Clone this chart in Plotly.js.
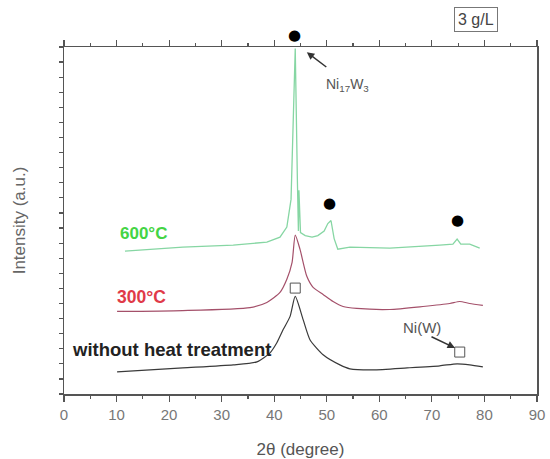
<!DOCTYPE html>
<html>
<head>
<meta charset="utf-8">
<script src="https://cdn.plot.ly/plotly-3.0.1.min.js"></script>
<style>
  html, body { margin: 0; padding: 0; background: #fff; }
  #chart { width: 550px; height: 459px; }
</style>
</head>
<body>
<div id="chart"></div>
<script>
// XRD patterns (stacked, arbitrary intensity units)
const twoThetaAsDep = [10.1, 22.6, 32.2, 36.7, 39.2, 40.5, 41.7, 43.0, 44.0, 45.5, 46.8, 49.3, 52.5, 54.4, 58.8, 65.3, 71.5, 74.8, 77.2, 79.7];
const intensityAsDep = [1.47, 1.73, 1.93, 2.13, 2.73, 3.4, 4.27, 5.13, 6.47, 4.93, 3.6, 2.6, 1.93, 1.67, 1.6, 1.73, 1.87, 2.0, 1.93, 1.8];

const twoTheta300 = [10.1, 22.6, 35.4, 38.6, 41.1, 42.4, 43.4, 44.0, 44.9, 46.2, 47.4, 49.3, 51.2, 53.1, 55.7, 62.0, 68.3, 73.4, 75.3, 77.2, 79.7];
const intensity300 = [5.47, 5.53, 5.73, 6.07, 6.73, 7.6, 8.73, 10.53, 9.6, 7.8, 7.07, 6.6, 6.13, 5.8, 5.67, 5.6, 5.8, 6.0, 6.13, 6.0, 5.87];

const twoTheta600 = [11.6, 22.6, 32.2, 38.6, 41.1, 42.4, 43.2, 43.6, 44.0, 44.4, 44.6, 44.7, 45.0, 45.9, 47.2, 48.3, 49.5, 50.2, 50.8, 51.4, 52.1, 54.4, 62.0, 71.5, 74.0, 74.8, 75.5, 77.2, 79.1];
const intensity600 = [9.47, 9.73, 9.87, 10.07, 10.4, 11.07, 12.9, 18.3, 22.9, 14.3, 10.8, 13.5, 10.7, 10.5, 10.4, 10.5, 10.8, 11.3, 11.5, 10.3, 9.6, 9.73, 9.67, 9.87, 9.93, 10.27, 9.93, 9.93, 9.67];

// Phase markers: Ni17W3 (filled circles) and Ni(W) (open squares)
const ni17w3X = [43.8, 50.6, 74.8];
const ni17w3Y = [23.7, 12.6, 11.5];
const niwX = [44.0, 75.3];
const niwY = [7.02, 2.78];

const xTicks = [0, 10, 20, 30, 40, 50, 60, 70, 80, 90];
const Y_MAX = 23;

const FONT = 'Liberation Sans, Arial, sans-serif';

const traces = [
  { x: twoThetaAsDep, y: intensityAsDep, mode: 'lines', line: { color: '#3a3a3a', width: 1.2, shape: 'spline', smoothing: 0.6 }, hoverinfo: 'skip' },
  { x: twoTheta300, y: intensity300, mode: 'lines', line: { color: '#a4506a', width: 1.2, shape: 'spline', smoothing: 0.6 }, hoverinfo: 'skip' },
  { x: twoTheta600, y: intensity600, mode: 'lines', line: { color: '#86d6a3', width: 1.3 }, hoverinfo: 'skip' },
  { x: niwX, y: niwY, mode: 'markers', marker: { symbol: 'square-open', size: 10, color: '#555', line: { width: 1 } }, cliponaxis: false, hoverinfo: 'skip' }
];

// Filled-circle phase markers; vertical position given as a fraction of the
// y range (paper units) so that the one above the frame is still drawn
const dotAnnotations = ni17w3X.map((x, i) => ({
  x: x, y: ni17w3Y[i] / Y_MAX, xref: 'x', yref: 'paper', text: '●', showarrow: false,
  xanchor: 'center', yanchor: 'middle',
  font: { family: 'DejaVu Sans', size: 15, color: '#000' }, yshift: 1
}));

const layout = {
  width: 550,
  height: 459,
  margin: { l: 64, r: 13, t: 47, b: 65 },
  paper_bgcolor: '#fff',
  plot_bgcolor: '#fff',
  showlegend: false,
  font: { family: FONT, color: '#555' },
  xaxis: {
    range: [0, 90],
    tickvals: xTicks,
    ticktext: xTicks.map(String),
    ticks: 'outside',
    ticklen: 6,
    tickwidth: 1.2,
    tickcolor: '#555',
    minor: { dtick: 5, ticks: 'outside', ticklen: 3, tickcolor: '#555' },
    mirror: 'ticks',
    showline: true,
    linecolor: '#555',
    linewidth: 1.5,
    showgrid: false,
    zeroline: false,
    tickfont: { family: FONT, size: 15, color: '#777' },
    title: { text: '2θ (degree)', font: { family: FONT, size: 17, color: '#555' }, standoff: 21 },
    automargin: false
  },
  yaxis: {
    range: [0, Y_MAX],
    dtick: 1,
    tick0: 0,
    ticks: 'outside',
    ticklen: 4,
    tickwidth: 1.2,
    tickcolor: '#555',
    showticklabels: false,
    mirror: true,
    showline: true,
    linecolor: '#555',
    linewidth: 1.5,
    showgrid: false,
    zeroline: false,
    title: { text: 'Intensity (a.u.)', font: { family: FONT, size: 17, color: '#666' }, standoff: 28 },
    automargin: false
  },
  annotations: dotAnnotations.concat([
    { x: 15.2, y: 10.67, xref: 'x', yref: 'y', text: '600°C', showarrow: false,
      font: { family: FONT, size: 17, color: '#44d444', weight: 'bold' } },
    { x: 14.8, y: 6.43, xref: 'x', yref: 'y', text: '300°C', showarrow: false,
      font: { family: FONT, size: 17.5, color: '#e03a48', weight: 'bold' } },
    { x: 20.4, y: 2.92, xref: 'x', yref: 'y', text: 'without heat treatment', showarrow: false,
      font: { family: FONT, size: 18.5, color: '#222', weight: 'bold' } },
    { x: 46.2, y: 22.66, xref: 'x', yref: 'y', text: '', showarrow: true, arrowhead: 2, arrowsize: 1, arrowwidth: 1.5,
      arrowcolor: '#333', ax: 21, ay: 16 },
    { x: 53.9, y: 20.5, xref: 'x', yref: 'y', text: 'Ni<sub>17</sub>W<sub>3</sub>', showarrow: false,
      font: { family: FONT, size: 14, color: '#555' } },
    { x: 74.4, y: 3.05, xref: 'x', yref: 'y', text: '', showarrow: true, arrowhead: 2, arrowsize: 1, arrowwidth: 1.5,
      arrowcolor: '#333', ax: -25, ay: -12 },
    { x: 68.1, y: 4.44, xref: 'x', yref: 'y', text: 'Ni(W)', showarrow: false,
      font: { family: FONT, size: 15, color: '#555' } },
    { x: 0.872, y: 1.078, xref: 'paper', yref: 'paper', xanchor: 'center', yanchor: 'middle', text: '3 g/L', showarrow: false,
      font: { family: FONT, size: 16, color: '#444' }, bordercolor: '#777', borderwidth: 1, borderpad: 3, bgcolor: '#fff' }
  ])
};

Plotly.newPlot('chart', traces, layout, { staticPlot: true, displayModeBar: false });
</script>
</body>
</html>
